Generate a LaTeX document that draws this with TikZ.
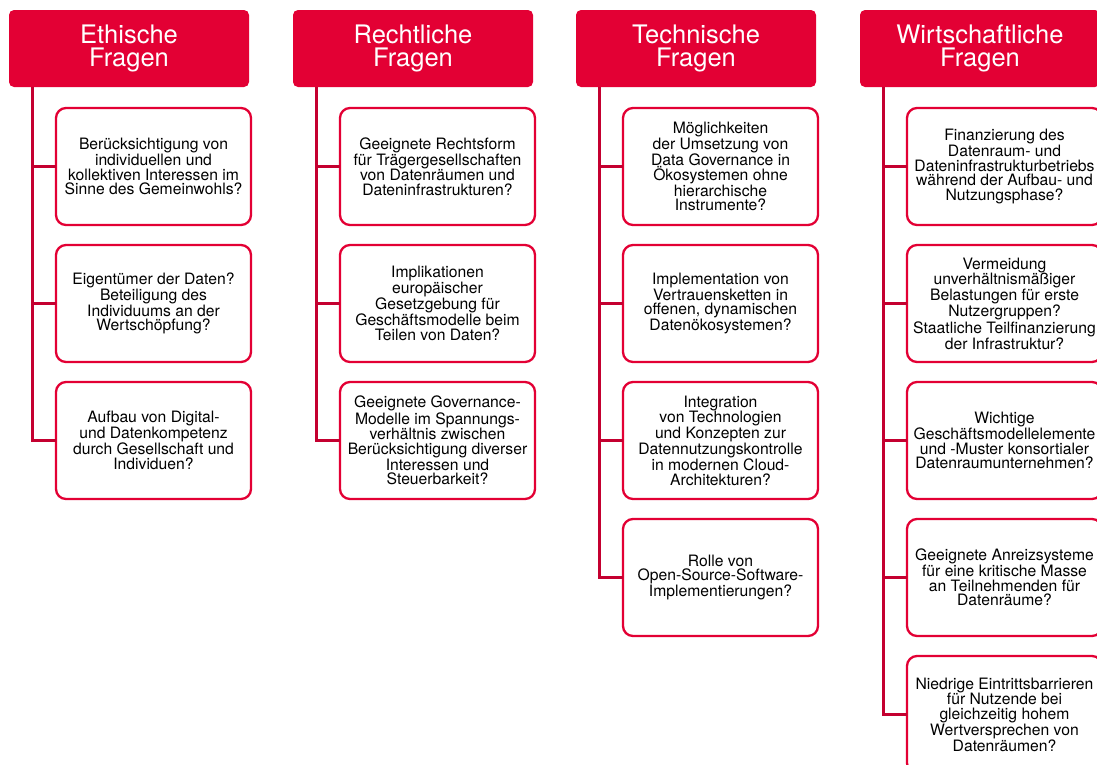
\documentclass[tikz,border=0pt]{standalone}
\usepackage{fontspec}
\setmainfont{TeX Gyre Heros}
\usepackage{tikz}
\usetikzlibrary{positioning}
\usepackage{xcolor}
\definecolor{fqred}{RGB}{227,0,52}
\definecolor{fqdarkred}{RGB}{196,0,48}
\tikzstyle{kopf} = [rectangle, rounded corners=5pt, anchor=north west, minimum width=240pt, minimum height=77pt, inner sep=0pt, outer sep=0pt, fill=fqred, text=white, align=center, font=\fontsize{25.5}{23.3}\selectfont]
\tikzstyle{frage} = [rectangle, rounded corners=10pt, minimum width=195pt, minimum height=117pt, inner sep=0pt, outer sep=0pt, draw=fqred, line width=2.3pt, fill=white, align=center, font=\fontsize{15.7}{14.4}\selectfont]
\tikzstyle{ast} = [line width=3pt, color=fqdarkred]

\begin{document}
\begin{tikzpicture}[x=1pt, y=-1pt, node distance=20pt]
\clip (0,0) rectangle (1097,764);

% Kopfzeile
\node (eth) [kopf] at (9,10) {Ethische\\Fragen};
\node (recht) [kopf] at (293,10) {Rechtliche\\Fragen};
\node (tech) [kopf] at (576,10) {Technische\\Fragen};
\node (wirt) [kopf] at (860,10) {Wirtschaftliche\\Fragen};

% Ethische Fragen
\node (eth1) [frage, below right=21pt and 47pt of eth.south west] {Berücksichtigung von\\individuellen und\\kollektiven Interessen im\\Sinne des Gemeinwohls?};
\node (eth2) [frage, below=of eth1] {Eigentümer der Daten?\\Beteiligung des\\Individuums an der\\Wertschöpfung?};
\node (eth3) [frage, below=of eth2] {Aufbau von Digital-\\und Datenkompetenz\\durch Gesellschaft und\\Individuen?};

% Rechtliche Fragen
\node (recht1) [frage, below right=21pt and 47pt of recht.south west] {Geeignete Rechtsform\\für Trägergesellschaften\\von Datenräumen und\\Dateninfrastrukturen?};
\node (recht2) [frage, below=of recht1] {Implikationen\\europäischer\\Gesetzgebung für\\Geschäftsmodelle beim\\Teilen von Daten?};
\node (recht3) [frage, below=of recht2] {Geeignete Governance-\\Modelle im Spannungs-\\verhältnis zwischen\\Berücksichtigung diverser\\Interessen und\\Steuerbarkeit?};

% Technische Fragen
\node (tech1) [frage, below right=21pt and 47pt of tech.south west] {Möglichkeiten\\der Umsetzung von\\Data Governance in\\Ökosystemen ohne\\hierarchische\\Instrumente?};
\node (tech2) [frage, below=of tech1] {Implementation von\\Vertrauensketten in\\offenen, dynamischen\\Datenökosystemen?};
\node (tech3) [frage, below=of tech2] {Integration\\von Technologien\\und Konzepten zur\\Datennutzungskontrolle\\in modernen Cloud-\\Architekturen?};
\node (tech4) [frage, below=of tech3] {Rolle von\\Open-Source-Software-\\Implementierungen?};

% Wirtschaftliche Fragen
\node (wirt1) [frage, below right=21pt and 47pt of wirt.south west] {Finanzierung des\\Datenraum- und\\Dateninfrastrukturbetriebs\\während der Aufbau- und\\Nutzungsphase?};
\node (wirt2) [frage, below=of wirt1] {Vermeidung\\unverhältnismäßiger\\Belastungen für erste\\Nutzergruppen?\\Staatliche Teilfinanzierung\\der Infrastruktur?};
\node (wirt3) [frage, below=of wirt2] {Wichtige\\Geschäftsmodellelemente\\und -Muster konsortialer\\Datenraumunternehmen?};
\node (wirt4) [frage, below=of wirt3] {Geeignete Anreizsysteme\\für eine kritische Masse\\an Teilnehmenden für\\Datenräume?};
\node (wirt5) [frage, below=of wirt4] {Niedrige Eintrittsbarrieren\\für Nutzende bei\\gleichzeitig hohem\\Wertversprechen von\\Datenräumen?};

% Verbindungen
\foreach \k in {1,2,3}
  \draw[ast] ([xshift=23pt]eth.south west) |- (eth\k.west);
\foreach \k in {1,2,3}
  \draw[ast] ([xshift=23pt]recht.south west) |- (recht\k.west);
\foreach \k in {1,...,4}
  \draw[ast] ([xshift=23pt]tech.south west) |- (tech\k.west);
\foreach \k in {1,...,5}
  \draw[ast] ([xshift=23pt]wirt.south west) |- (wirt\k.west);
\end{tikzpicture}
\end{document}
